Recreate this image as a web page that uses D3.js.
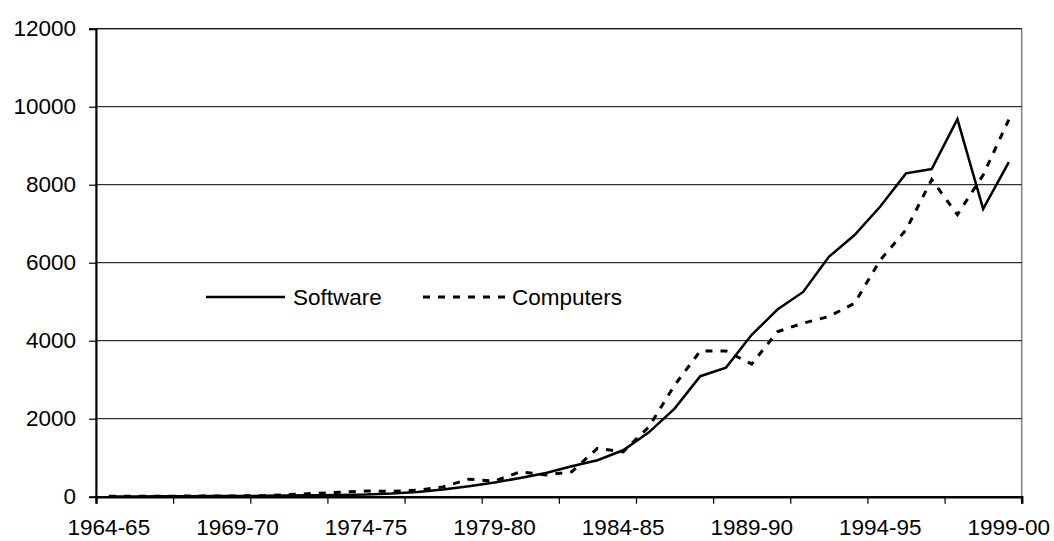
<!DOCTYPE html>
<html>
<head>
<meta charset="utf-8">
<script src="https://cdn.jsdelivr.net/npm/d3@7"></script>
<style>
  html, body { margin: 0; padding: 0; background: #fff; }
  svg { display: block; font-family: "Liberation Sans", Arial, sans-serif; }
</style>
</head>
<body>
<svg id="chart" width="1054" height="541"></svg>
<script>
// Financial years shown on the category axis
const years = [
  "1964-65","1965-66","1966-67","1967-68","1968-69","1969-70","1970-71","1971-72",
  "1972-73","1973-74","1974-75","1975-76","1976-77","1977-78","1978-79","1979-80",
  "1980-81","1981-82","1982-83","1983-84","1984-85","1985-86","1986-87","1987-88",
  "1988-89","1989-90","1990-91","1991-92","1992-93","1993-94","1994-95","1995-96",
  "1996-97","1997-98","1998-99","1999-00"
];

// Series values per year
const software = [
  5, 8, 10, 12, 15, 18, 22, 28, 35, 45, 55, 80, 120, 185, 270, 365,
  480, 610, 780, 935, 1190, 1650, 2260, 3090, 3310, 4150, 4800, 5250,
  6150, 6710, 7440, 8290, 8400, 9680, 7380, 8580
];
const computers = [
  10, 12, 14, 15, 18, 20, 25, 55, 85, 115, 145, 140, 165, 250, 450, 400,
  640, 555, 640, 1240, 1150, 1790, 2860, 3735, 3735, 3400, 4230, 4450,
  4620, 4960, 6070, 6840, 8130, 7230, 8250, 9670
];

// Axis ticks
const yTicks = [0, 2000, 4000, 6000, 8000, 10000, 12000];
const xLabelYears = ["1964-65","1969-70","1974-75","1979-80","1984-85","1989-90","1994-95","1999-00"];

const series = [
  { name: "Software", values: software, dash: null, width: 2.5 },
  { name: "Computers", values: computers, dash: "7,8", width: 3 }
];

const svg = d3.select("#chart");
const plotLeft = 96, plotRight = 1021.7, plotTop = 28.7, plotBottom = 496.7;
const fontSize = 22.5;

const x = d3.scaleBand().domain(years).range([plotLeft, plotRight]).padding(0);
const xIdx = d3.scaleLinear().domain([0, years.length]).range([plotLeft, plotRight]);
const y = d3.scaleLinear().domain([0, 12000]).range([plotBottom, plotTop]);

// Plot area border
svg.append("rect")
  .attr("x", plotLeft).attr("y", plotTop)
  .attr("width", plotRight - plotLeft).attr("height", plotBottom - plotTop)
  .attr("fill", "none").attr("stroke", "#808080").attr("stroke-width", 1.5);

// Horizontal gridlines
svg.append("g").selectAll("line")
  .data(yTicks.filter(v => v > 0))
  .join("line")
  .attr("x1", plotLeft).attr("x2", plotRight)
  .attr("y1", d => y(d)).attr("y2", d => y(d))
  .attr("stroke", "#000").attr("stroke-width", 1);

// Y axis
const yAxis = svg.append("g")
  .attr("transform", `translate(${plotLeft},0)`)
  .call(d3.axisLeft(y).tickValues(yTicks).tickSize(7).tickPadding(13).tickFormat(d3.format("d")));
yAxis.select(".domain").attr("stroke", "#000").attr("stroke-width", 2);
yAxis.selectAll(".tick line").attr("stroke", "#000").attr("stroke-width", 1.2);
yAxis.selectAll("text").attr("font-size", fontSize).attr("fill", "#000")
  .attr("font-family", "'Liberation Sans', Arial, sans-serif");

// X axis tick marks at every third category boundary
const xTickAxis = svg.append("g")
  .attr("transform", `translate(0,${plotBottom})`)
  .call(d3.axisBottom(xIdx).tickValues(d3.range(0, years.length + 1, 3)).tickSize(7).tickFormat(""));
xTickAxis.select(".domain").attr("stroke", "#000").attr("stroke-width", 2.5);
xTickAxis.selectAll(".tick line").attr("stroke", "#000").attr("stroke-width", 1.2);

// X axis labels, every fifth year, centred on the category
const xLabelAxis = svg.append("g")
  .attr("transform", `translate(0,${plotBottom})`)
  .call(d3.axisBottom(x).tickValues(xLabelYears).tickSize(0).tickPadding(22));
xLabelAxis.select(".domain").remove();
xLabelAxis.selectAll("text").attr("font-size", fontSize).attr("fill", "#000")
  .attr("font-family", "'Liberation Sans', Arial, sans-serif");

// Series lines
const line = d3.line()
  .x((d, i) => x(years[i]) + x.bandwidth() / 2)
  .y(d => y(d));

svg.append("g").selectAll("path")
  .data(series)
  .join("path")
  .attr("d", d => line(d.values))
  .attr("fill", "none")
  .attr("stroke", "#000")
  .attr("stroke-width", d => d.width)
  .attr("stroke-dasharray", d => d.dash)
  .attr("stroke-linejoin", "miter");

// Legend
const legendItems = [
  { s: series[0], x1: 206, x2: 285, tx: 293 },
  { s: series[1], x1: 423, x2: 507, tx: 512 }
];
const legendY = 297;
const lg = svg.append("g");
lg.selectAll("line")
  .data(legendItems)
  .join("line")
  .attr("x1", d => d.x1).attr("x2", d => d.x2)
  .attr("y1", legendY).attr("y2", legendY)
  .attr("stroke", "#000")
  .attr("stroke-width", d => d.s.width)
  .attr("stroke-dasharray", d => d.s.dash);
lg.selectAll("text")
  .data(legendItems)
  .join("text")
  .attr("x", d => d.tx).attr("y", legendY)
  .attr("dy", "0.35em")
  .attr("font-size", fontSize)
  .attr("fill", "#000")
  .text(d => d.s.name);
</script>
</body>
</html>
